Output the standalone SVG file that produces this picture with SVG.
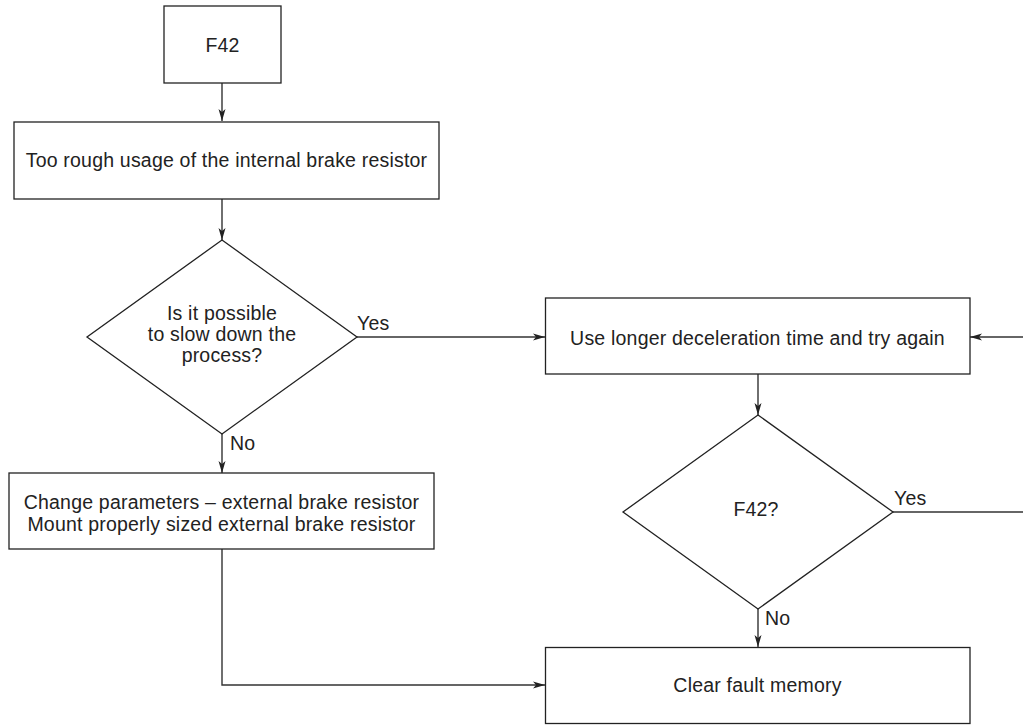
<svg xmlns="http://www.w3.org/2000/svg" width="1023" height="725" viewBox="0 0 1023 725">
<style>
.n{fill:#fff;stroke:#222;stroke-width:1.3}
.c{fill:none;stroke:#333;stroke-width:1.4}
text{font-family:"Liberation Sans",Arial,sans-serif;font-size:19.5px;letter-spacing:0.2px;fill:#222}
.m{text-anchor:middle}
</style>
<defs>
<marker id="ah" viewBox="0 0 12 8" refX="12" refY="4" markerWidth="12" markerHeight="8" markerUnits="userSpaceOnUse" orient="auto">
<path d="M0,0.5 L12,4 L0,7.5 L3,4 z" fill="#222"/>
</marker>
</defs>
<rect width="1023" height="725" fill="#fff"/>
<g id="connectors">
<path class="c" d="M222,83 V121" marker-end="url(#ah)"/>
<path class="c" d="M222,199 V240" marker-end="url(#ah)"/>
<path class="c" d="M357,337 H545" marker-end="url(#ah)"/>
<path class="c" d="M222,434 V473" marker-end="url(#ah)"/>
<path class="c" d="M758,374 V415" marker-end="url(#ah)"/>
<path class="c" d="M893,512 H1023"/>
<path class="c" d="M1023,337 H970" marker-end="url(#ah)"/>
<path class="c" d="M758,609 V647" marker-end="url(#ah)"/>
<path class="c" d="M222,549 V685 H545" marker-end="url(#ah)"/>
<text x="357" y="330">Yes</text>
<text x="230" y="450">No</text>
<text x="894" y="505">Yes</text>
<text x="765" y="625">No</text>
</g>
<g id="n1"><rect class="n" x="164" y="6" width="117" height="77"/><text class="m" x="222.5" y="52">F42</text></g>
<g id="n2"><rect class="n" x="14" y="122" width="425" height="77"/><text class="m" x="226.5" y="167">Too rough usage of the internal brake resistor</text></g>
<g id="n3"><polygon class="n" points="222,240 357,337 222,434 87,337"/><text class="m" x="222" y="319.5">Is it possible</text><text class="m" x="222" y="340.5">to slow down the</text><text class="m" x="222" y="361.5">process?</text></g>
<g id="n4"><rect class="n" x="545.5" y="298" width="424.5" height="76"/><text class="m" x="757.5" y="345">Use longer deceleration time and try again</text></g>
<g id="n5"><polygon class="n" points="758,415 893,512 758,609 623,512"/><text class="m" x="756" y="516">F42?</text></g>
<g id="n6"><rect class="n" x="9" y="473" width="425" height="76"/><text class="m" x="221.5" y="508.5">Change parameters – external brake resistor</text><text class="m" x="221.5" y="530.5">Mount properly sized external brake resistor</text></g>
<g id="n7"><rect class="n" x="545.5" y="647.5" width="424.5" height="76"/><text class="m" x="757.5" y="691.5">Clear fault memory</text></g>
</svg>
